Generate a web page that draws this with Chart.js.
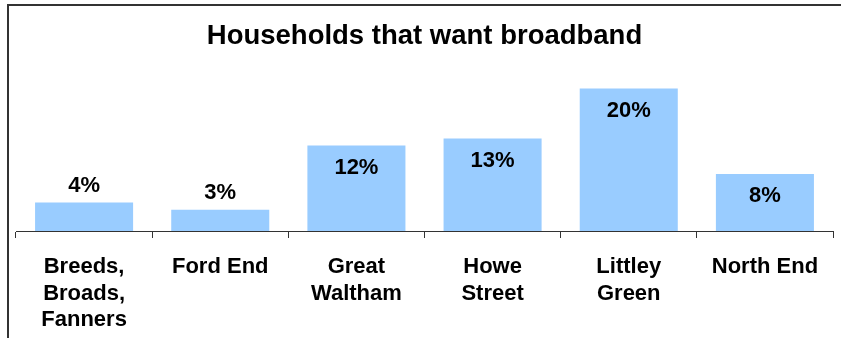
<!DOCTYPE html>
<html>
<head>
<meta charset="utf-8">
<script src="https://cdn.jsdelivr.net/npm/chart.js@4/dist/chart.umd.min.js"></script>
<style>
  html, body { margin: 0; padding: 0; background: #fff; }
  #wrap { position: relative; width: 841px; height: 338px; overflow: hidden; }
  #frame {
    position: absolute; left: 7px; top: 4px; width: 900px; height: 400px;
    border-top: 2px solid #333; border-left: 2px solid #333;
  }
  #chart { position: absolute; left: 0; top: 0; }
</style>
</head>
<body>
<div id="wrap">
  <div id="frame"></div>
  <canvas id="chart" width="841" height="338"></canvas>
</div>
<script>
  // villages and share of households wanting broadband (%)
  const villages = [
    ["Breeds,", "Broads,", "Fanners"],
    "Ford End",
    ["Great", "Waltham"],
    ["Howe", "Street"],
    ["Littley", "Green"],
    "North End"
  ];
  const wantBroadband = [4, 3, 12, 13, 20, 8];

  const labelFont = "'Liberation Sans', Arial, sans-serif";

  // percentage labels: inside the top of tall bars, above short ones
  const valueLabels = {
    id: "valueLabels",
    afterDatasetsDraw(chart) {
      const ctx = chart.ctx;
      const meta = chart.getDatasetMeta(0);
      ctx.save();
      ctx.font = "bold 22px " + labelFont;
      ctx.fillStyle = "#000";
      ctx.textAlign = "center";
      ctx.textBaseline = "middle";
      meta.data.forEach((bar, i) => {
        const h = bar.base - bar.y;
        const y = h > 40 ? bar.y + 22 : bar.y - 17;
        ctx.fillText(wantBroadband[i] + "%", bar.x, y);
      });
      ctx.restore();
    }
  };

  new Chart(document.getElementById("chart"), {
    type: "bar",
    data: {
      labels: villages,
      datasets: [{
        data: wantBroadband,
        backgroundColor: "#99CCFF",
        borderWidth: 0,
        barPercentage: 0.72,
        categoryPercentage: 1
      }]
    },
    options: {
      responsive: false,
      animation: false,
      layout: { padding: { left: 16, right: 8, top: 0, bottom: 5 } },
      plugins: {
        legend: { display: false },
        tooltip: { enabled: false },
        title: {
          display: true,
          text: "Households that want broadband",
          color: "#000",
          font: { family: labelFont, size: 27.5, weight: "bold" },
          padding: { top: 20, bottom: 0 }
        }
      },
      scales: {
        x: {
          // keep the axis band a fixed height so the baseline sits low
          afterFit(scale) { scale.height = 102; },
          border: { display: true, color: "#333", width: 1 },
          grid: {
            display: true,
            drawOnChartArea: false,
            drawTicks: true,
            tickLength: 7,
            color: "#333",
            offset: true
          },
          ticks: {
            color: "#000",
            font: { family: labelFont, size: 22, weight: "bold", lineHeight: 1.2 },
            padding: 16,
            maxRotation: 0,
            autoSkip: false
          }
        },
        y: {
          display: false,
          min: 0,
          max: 25
        }
      }
    },
    plugins: [valueLabels]
  });
</script>
</body>
</html>
